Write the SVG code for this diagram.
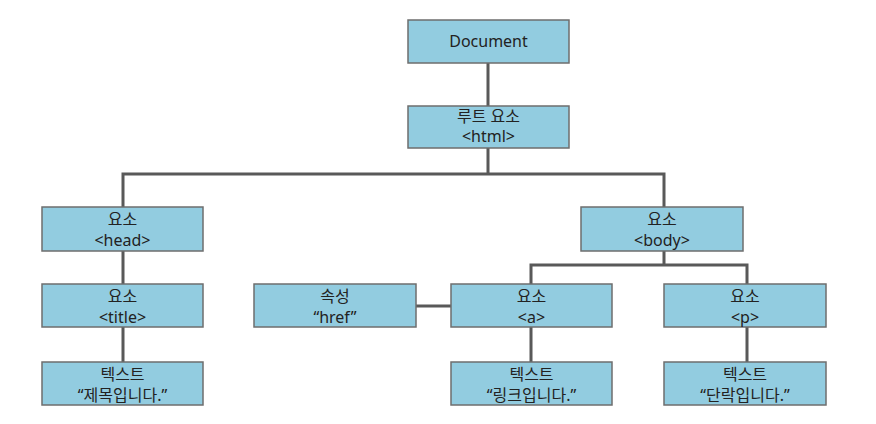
<svg xmlns="http://www.w3.org/2000/svg" width="876" height="424" viewBox="0 0 876 424">
<style>
.box{fill:#92cce0;stroke:#6e6e6e;stroke-width:1.5}
.t{font-family:"Noto Sans","Noto Sans CJK KR",sans-serif;font-size:16px;fill:#222;text-anchor:middle}
.c{fill:none;stroke:#595959;stroke-width:3}
</style>
<rect width="876" height="424" fill="#fff"/>
<g id="connectors">
<path class="c" d="M488 63V106M488 148V174M123 207V174H664V207M123 251V284M123 327V362M664 251V265M531 284V265H747V284M416 306H451M531 327V362M747 327V362"/>
</g>
<g id="document"><rect class="box" x="408" y="20" width="161" height="43"/><text class="t" x="488.5" y="47">Document</text></g>
<g id="html"><rect class="box" x="408" y="106" width="161" height="42"/><text class="t" x="488.5" y="122">루트 요소</text><text class="t" x="488.5" y="142">&lt;html&gt;</text></g>
<g id="head"><rect class="box" x="42" y="207" width="161" height="44"/><text class="t" x="122.5" y="225">요소</text><text class="t" x="122.5" y="246">&lt;head&gt;</text></g>
<g id="body"><rect class="box" x="581" y="207" width="162" height="44"/><text class="t" x="662" y="225">요소</text><text class="t" x="662" y="246">&lt;body&gt;</text></g>
<g id="title"><rect class="box" x="42" y="284" width="161" height="43"/><text class="t" x="122.5" y="302">요소</text><text class="t" x="122.5" y="323">&lt;title&gt;</text></g>
<g id="href"><rect class="box" x="254" y="284" width="162" height="43"/><text class="t" x="335" y="302">속성</text><text class="t" x="335" y="323">“href”</text></g>
<g id="a"><rect class="box" x="451" y="284" width="161" height="43"/><text class="t" x="531.5" y="302">요소</text><text class="t" x="531.5" y="323">&lt;a&gt;</text></g>
<g id="p"><rect class="box" x="664" y="284" width="162" height="43"/><text class="t" x="745" y="302">요소</text><text class="t" x="745" y="323">&lt;p&gt;</text></g>
<g id="text-title"><rect class="box" x="42" y="362" width="161" height="43"/><text class="t" x="122.5" y="380">텍스트</text><text class="t" x="122.5" y="401">“제목입니다.”</text></g>
<g id="text-a"><rect class="box" x="451" y="362" width="161" height="43"/><text class="t" x="531.5" y="380">텍스트</text><text class="t" x="531.5" y="401">“링크입니다.”</text></g>
<g id="text-p"><rect class="box" x="664" y="362" width="162" height="43"/><text class="t" x="745" y="380">텍스트</text><text class="t" x="745" y="401">“단락입니다.”</text></g>
</svg>
